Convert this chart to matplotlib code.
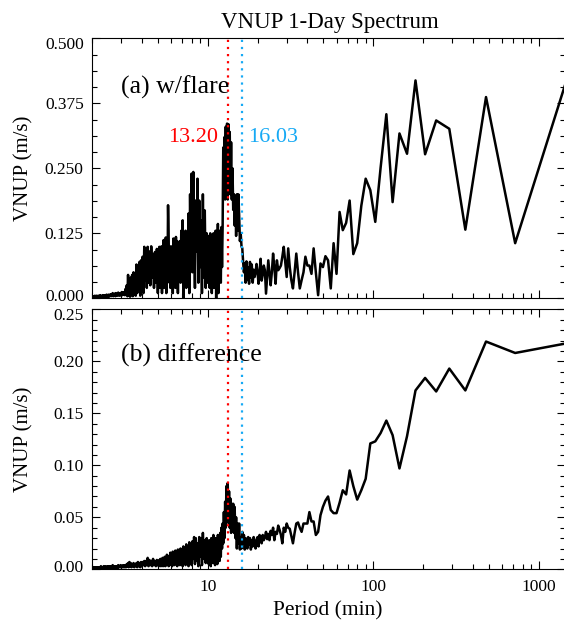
import matplotlib
matplotlib.use("Agg")
import matplotlib.pyplot as plt
import matplotlib.transforms as mtransforms
from matplotlib.ticker import FixedLocator, LogLocator, NullFormatter, FormatStrFormatter, MultipleLocator

plt.rcParams['font.family'] = ['Liberation Serif', 'DejaVu Serif']

# ---------------- data ----------------
day_minutes = 1440          # 1-day series, 1-min cadence -> period = 1440 / harmonic
harm_a = list(range(1, 145))        # harmonics 1..144
harm_b = list(range(146, 288, 2))   # harmonics 146..286 (every 2nd)
harm_c = list(range(288, 721, 4))   # harmonics 288..720 (every 4th)

peak_flare = 13.20
peak_ref = 16.03

# (a) w/flare
flare_a = [
    0.410, 0.106, 0.387, 0.132, 0.326, 0.342, 0.277, 0.419, 0.278, 0.317,
    0.185, 0.354, 0.251, 0.147, 0.208, 0.230, 0.178, 0.106, 0.085, 0.188,
    0.145, 0.131, 0.166, 0.047, 0.106, 0.019, 0.073, 0.081, 0.060, 0.067,
    0.006, 0.050, 0.096, 0.047, 0.063, 0.063, 0.080, 0.050, 0.035, 0.019,
    0.050, 0.086, 0.050, 0.019, 0.035, 0.060, 0.096, 0.041, 0.070, 0.099,
    0.080, 0.063, 0.058, 0.054, 0.073, 0.028, 0.060, 0.086, 0.050, 0.025,
    0.050, 0.073, 0.040, 0.009, 0.054, 0.063, 0.045, 0.034, 0.076, 0.050,
    0.028, 0.050, 0.066, 0.050, 0.041, 0.055, 0.030, 0.065, 0.040, 0.070,
    0.028, 0.060, 0.035, 0.071, 0.030, 0.067, 0.050, 0.070, 0.096, 0.100,
    0.125, 0.110, 0.160, 0.200, 0.130, 0.200, 0.120, 0.195, 0.140, 0.200,
    0.170, 0.250, 0.190, 0.300, 0.200, 0.320, 0.240, 0.335, 0.190, 0.336,
    0.200, 0.330, 0.190, 0.310, 0.220, 0.290, 0.137, 0.060, 0.137, 0.030,
    0.120, 0.050, 0.130, 0.010, 0.143, 0.060, 0.120, 0.000, 0.130, 0.070,
    0.100, 0.020, 0.125, 0.080, 0.120, 0.010, 0.110, 0.050, 0.125, 0.020,
    0.100, 0.060, 0.120, 0.030,
]
flare_b = [
    0.125, 0.020, 0.169, 0.040, 0.200, 0.010, 0.150, 0.060, 0.188, 0.030,
    0.230, 0.090, 0.188, 0.020, 0.140, 0.243, 0.050, 0.240, 0.080, 0.200,
    0.010, 0.163, 0.060, 0.120, 0.020, 0.130, 0.050, 0.110, 0.000, 0.150,
    0.040, 0.130, 0.030, 0.110, 0.060, 0.090, 0.010, 0.110, 0.040, 0.118,
    0.020, 0.100, 0.050, 0.115, 0.010, 0.090, 0.040, 0.100, 0.020, 0.080,
    0.050, 0.120, 0.179, 0.030, 0.110, 0.010, 0.117, 0.040, 0.100, 0.020,
    0.112, 0.050, 0.090, 0.010, 0.100, 0.030, 0.090, 0.020, 0.099, 0.040,
    0.080,
]
flare_c = [
    0.010, 0.095, 0.030, 0.089, 0.020, 0.085, 0.040, 0.100, 0.025, 0.090,
    0.030, 0.099, 0.020, 0.095, 0.035, 0.099, 0.010, 0.080, 0.030, 0.073,
    0.005, 0.070, 0.020, 0.060, 0.010, 0.065, 0.005, 0.048, 0.015, 0.050,
    0.004, 0.045, 0.010, 0.040, 0.003, 0.035, 0.006, 0.045, 0.004, 0.025,
    0.008, 0.018, 0.006, 0.012, 0.008, 0.011, 0.006, 0.012, 0.007, 0.010,
    0.005, 0.009, 0.006, 0.011, 0.005, 0.008, 0.006, 0.010, 0.004, 0.009,
    0.006, 0.008, 0.004, 0.010, 0.005, 0.007, 0.004, 0.008, 0.005, 0.006,
    0.003, 0.007, 0.004, 0.006, 0.003, 0.007, 0.004, 0.005, 0.003, 0.006,
    0.003, 0.005, 0.002, 0.006, 0.003, 0.004, 0.002, 0.005, 0.003, 0.006,
    0.002, 0.004, 0.003, 0.005, 0.002, 0.004, 0.002, 0.005, 0.003, 0.004,
    0.002, 0.005, 0.003, 0.004, 0.002, 0.004, 0.003, 0.004, 0.003,
]

# (b) difference
diff_a = [
    0.217, 0.208, 0.219, 0.172, 0.193, 0.171, 0.184, 0.172, 0.128, 0.097,
    0.129, 0.143, 0.131, 0.123, 0.121, 0.087, 0.076, 0.067, 0.080, 0.095,
    0.072, 0.076, 0.064, 0.054, 0.054, 0.057, 0.070, 0.066, 0.060, 0.052,
    0.036, 0.033, 0.046, 0.046, 0.055, 0.044, 0.044, 0.044, 0.036, 0.040,
    0.045, 0.044, 0.035, 0.025, 0.032, 0.039, 0.040, 0.044, 0.036, 0.040,
    0.025, 0.033, 0.038, 0.042, 0.034, 0.036, 0.028, 0.040, 0.033, 0.037,
    0.028, 0.034, 0.029, 0.036, 0.031, 0.028, 0.033, 0.025, 0.030, 0.033,
    0.022, 0.031, 0.026, 0.020, 0.028, 0.031, 0.022, 0.028, 0.019, 0.030,
    0.024, 0.031, 0.020, 0.026, 0.030, 0.019, 0.033, 0.025, 0.036, 0.020,
    0.030, 0.019, 0.044, 0.025, 0.044, 0.020, 0.050, 0.030, 0.060, 0.035,
    0.063, 0.040, 0.063, 0.035, 0.068, 0.040, 0.075, 0.050, 0.083, 0.045,
    0.080, 0.040, 0.065, 0.030, 0.055, 0.025, 0.044, 0.020, 0.040, 0.012,
    0.035, 0.008, 0.030, 0.015, 0.033, 0.005, 0.028, 0.012, 0.030, 0.004,
    0.026, 0.015, 0.033, 0.006, 0.027, 0.012, 0.030, 0.003, 0.025, 0.010,
    0.028, 0.005, 0.022, 0.012,
]
diff_b = [
    0.030, 0.006, 0.028, 0.010, 0.035, 0.004, 0.030, 0.012, 0.031, 0.003,
    0.025, 0.008, 0.030, 0.005, 0.031, 0.010, 0.027, 0.004, 0.024, 0.008,
    0.026, 0.003, 0.021, 0.009, 0.024, 0.004, 0.020, 0.007, 0.022, 0.003,
    0.019, 0.006, 0.020, 0.004, 0.017, 0.007, 0.019, 0.003, 0.016, 0.006,
    0.018, 0.004, 0.015, 0.006, 0.017, 0.003, 0.014, 0.005, 0.016, 0.004,
    0.013, 0.003, 0.012, 0.005, 0.014, 0.004, 0.011, 0.003, 0.012, 0.005,
    0.010, 0.003, 0.011, 0.004, 0.009, 0.003, 0.010, 0.004, 0.009, 0.003,
    0.008,
]
diff_c = [
    0.004, 0.009, 0.003, 0.008, 0.004, 0.010, 0.003, 0.008, 0.004, 0.009,
    0.003, 0.011, 0.004, 0.008, 0.003, 0.008, 0.004, 0.007, 0.003, 0.007,
    0.002, 0.006, 0.003, 0.007, 0.002, 0.006, 0.003, 0.005, 0.002, 0.006,
    0.003, 0.005, 0.002, 0.006, 0.003, 0.007, 0.002, 0.006, 0.003, 0.005,
    0.002, 0.004, 0.002, 0.004, 0.002, 0.004, 0.002, 0.003, 0.002, 0.004,
    0.002, 0.003, 0.002, 0.004, 0.001, 0.003, 0.002, 0.003, 0.001, 0.003,
    0.002, 0.003, 0.001, 0.004, 0.002, 0.003, 0.001, 0.003, 0.002, 0.003,
    0.001, 0.003, 0.002, 0.003, 0.001, 0.002, 0.001, 0.003, 0.002, 0.002,
    0.001, 0.003, 0.001, 0.002, 0.001, 0.002, 0.001, 0.003, 0.001, 0.002,
    0.001, 0.002, 0.001, 0.002, 0.001, 0.002, 0.001, 0.002, 0.001, 0.002,
    0.001, 0.002, 0.001, 0.002, 0.001, 0.002, 0.001, 0.002, 0.001,
]

harmonics = harm_a + harm_b + harm_c
periods = [day_minutes / h for h in harmonics]
flare = flare_a + flare_b + flare_c
diff = diff_a + diff_b + diff_c
assert len(periods) == len(flare) == len(diff)

# ---------------- figure ----------------
W, H = 564, 622
fig = plt.figure(figsize=(W / 100, H / 100), dpi=100)

def fx(x):
    return x / W

def fy(y):
    return 1 - y / H

left_px, right_px = 92, 565
ax1 = fig.add_axes([fx(left_px), fy(298.3), (right_px - left_px) / W, 260 / H])
ax2 = fig.add_axes([fx(left_px), fy(569.3), (right_px - left_px) / W, 260 / H])

red = '#ff0000'
cyan = '#16a9f4'

for ax, vals, ymax, major, minor, fmt in (
        (ax1, flare, 0.5, 0.125, 0.03125, '%.3f'),
        (ax2, diff, 0.25, 0.05, 0.01, '%.2f')):
    ax.plot(periods, vals, color='black', lw=1.8, zorder=2)
    ax.axvline(peak_flare, color=red, lw=1.6, ls=(0, (1, 2.2)), zorder=3)
    ax.axvline(peak_ref, color=cyan, lw=1.6, ls=(0, (1, 2.2)), zorder=3)
    ax.set_xscale('log')
    ax.set_xlim(2, 1440)
    ax.set_ylim(0, ymax)
    ax.xaxis.set_major_locator(FixedLocator([10, 100, 1000]))
    ax.xaxis.set_minor_locator(LogLocator(base=10, subs=range(2, 10), numticks=20))
    ax.xaxis.set_minor_formatter(NullFormatter())
    ax.yaxis.set_major_locator(MultipleLocator(major))
    ax.yaxis.set_minor_locator(MultipleLocator(minor))
    ax.yaxis.set_major_formatter(FormatStrFormatter(fmt))
    ax.tick_params(which='both', direction='in', top=True, right=True,
                   width=0.8, labelsize=12.5)
    ax.tick_params(which='major', length=5.8)
    ax.tick_params(which='minor', length=3.3)
    ax.tick_params(axis='y', pad=6)
    ax.tick_params(axis='x', pad=7)
    for s in ax.spines.values():
        s.set_linewidth(0.8)

ax1.tick_params(labelbottom=False)
ax2.xaxis.set_major_formatter(FormatStrFormatter('%d'))

# texts
fig.text(fx(330), fy(28.3), 'VNUP 1-Day Spectrum', ha='center', va='baseline', fontsize=16.5)
fig.text(fx(23.5), fy(168), 'VNUP (m/s)', rotation=90, ha='center', va='center', fontsize=15)
fig.text(fx(23.5), fy(439), 'VNUP (m/s)', rotation=90, ha='center', va='center', fontsize=15)
fig.text(fx(328), fy(615), 'Period (min)', ha='center', va='baseline', fontsize=15.5)
fig.text(fx(120.7), fy(93.3), '(a) w/flare', ha='left', va='baseline', fontsize=18.5)
fig.text(fx(120.7), fy(361.7), '(b) difference', ha='left', va='baseline', fontsize=18.5)
fig.text(fx(218.3), fy(142), '%.2f' % peak_flare, color=red, ha='right', va='baseline', fontsize=16)
fig.text(fx(248.3), fy(142), '%.2f' % peak_ref, color=cyan, ha='left', va='baseline', fontsize=16)

# nudge the end y-tick labels inward, as in the reference
fig.canvas.draw()
for ax in (ax1, ax2):
    ticks = [t for t in ax.yaxis.get_major_ticks()]
    locs = list(ax.yaxis.get_majorticklocs())
    lo, hi = ax.get_ylim()
    for t, v in zip(ticks, locs):
        if abs(v - lo) < 1e-9:
            t.label1.set_transform(t.label1.get_transform() +
                                   mtransforms.ScaledTranslation(0, 2.5 / 72, fig.dpi_scale_trans))
        elif abs(v - hi) < 1e-9:
            t.label1.set_transform(t.label1.get_transform() +
                                   mtransforms.ScaledTranslation(0, -3.6 / 72, fig.dpi_scale_trans))

fig.savefig('out.png', dpi=100)
